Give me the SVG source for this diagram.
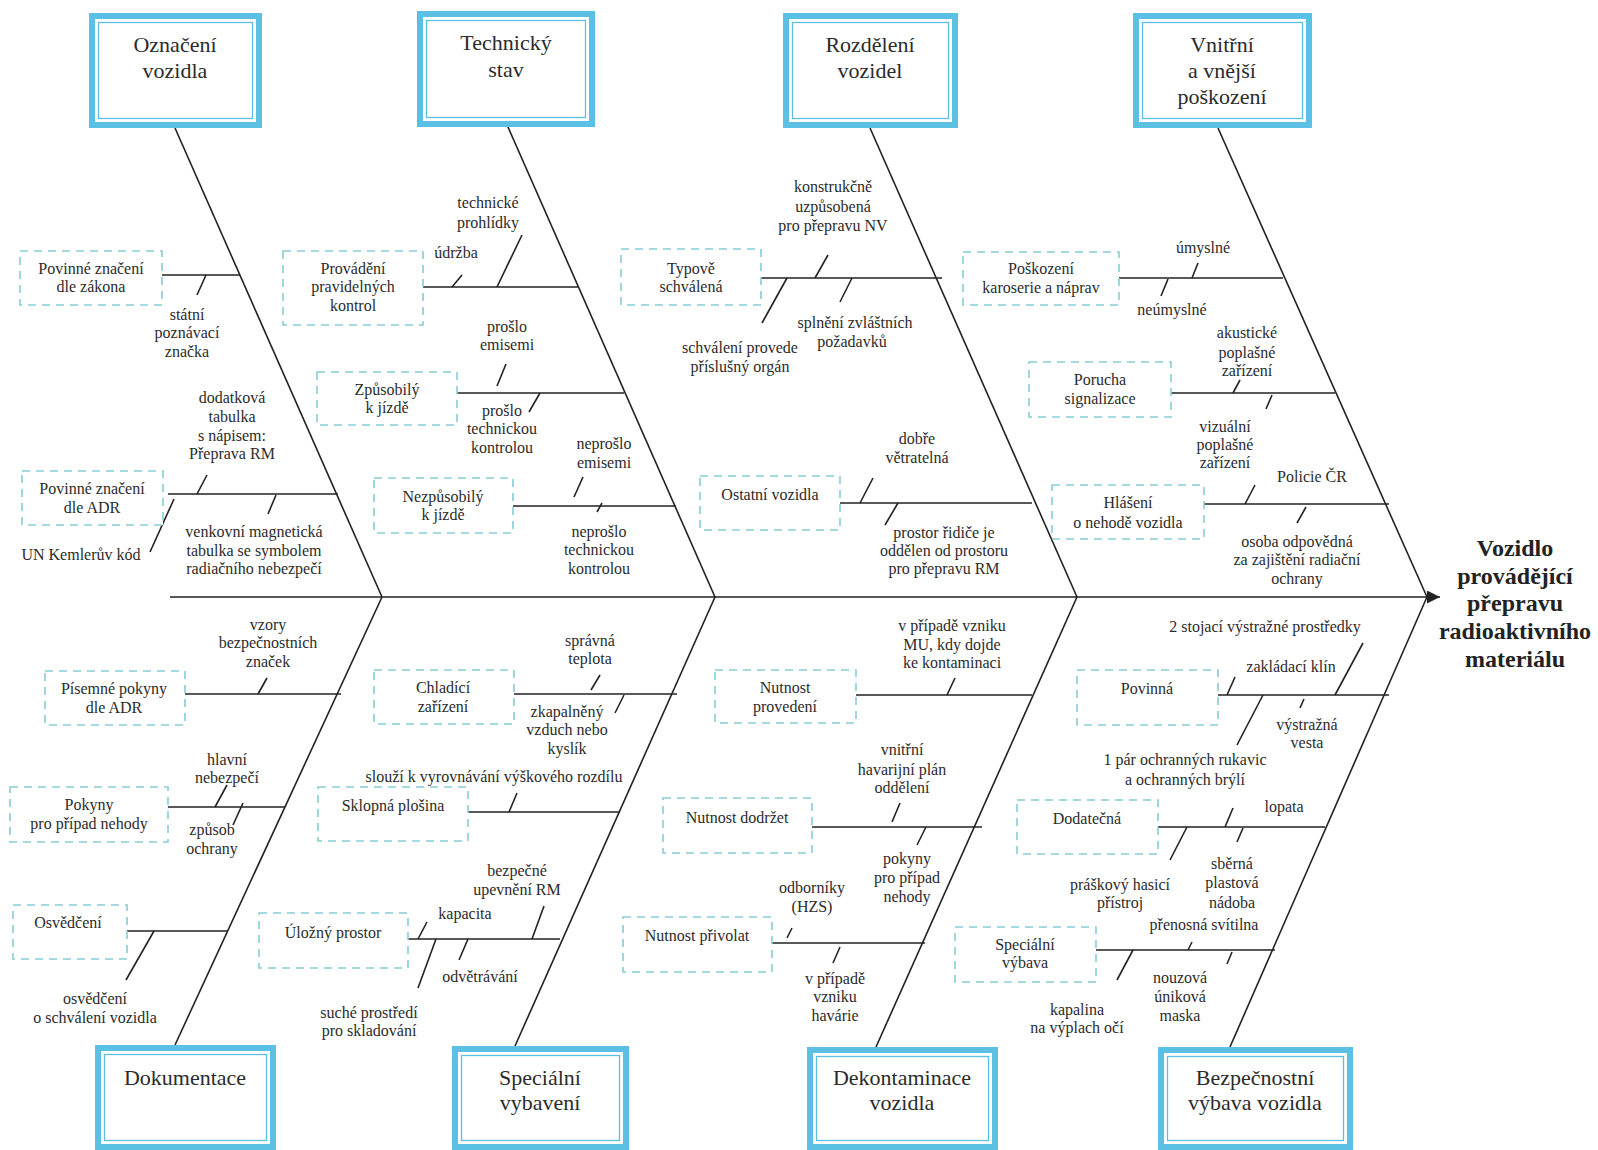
<svg xmlns="http://www.w3.org/2000/svg" width="1598" height="1150" viewBox="0 0 1598 1150">
<style>
.bo{fill:#fff;stroke:#5cbfe4;stroke-width:6}
.bi{fill:none;stroke:#5cbfe4;stroke-width:1.3}
.sb{fill:#fff;stroke:#86cdd6;stroke-width:1.6;stroke-dasharray:8 6}
.ln{stroke:#222;stroke-width:1.6;fill:none}
text{font-family:"Liberation Serif","DejaVu Serif",serif;fill:#2b2b2b;text-anchor:middle}
.t{font-size:16px}
.h{font-size:22px}
.ti{font-size:24px;font-weight:bold;fill:#222}
</style>
<defs>
<marker id="arr" markerUnits="userSpaceOnUse" markerWidth="14" markerHeight="14" refX="13" refY="6.5" orient="auto">
<path d="M0,0 L13,6.5 L0,13 z" fill="#222"/>
</marker>
</defs>
<rect width="1598" height="1150" fill="#fff"/>

<g id="connectors">
<line class="ln" x1="170" y1="597" x2="1440" y2="597" marker-end="url(#arr)"/>
<line class="ln" x1="175" y1="128" x2="382" y2="597"/>
<line class="ln" x1="382" y1="597" x2="175" y2="1045"/>
<line class="ln" x1="508" y1="127" x2="715" y2="597"/>
<line class="ln" x1="715" y1="597" x2="515" y2="1046"/>
<line class="ln" x1="870" y1="128" x2="1077" y2="597"/>
<line class="ln" x1="1077" y1="597" x2="876" y2="1047"/>
<line class="ln" x1="1218" y1="128" x2="1427" y2="597"/>
<line class="ln" x1="1427" y1="597" x2="1230" y2="1047"/>
<!-- branches -->
<line class="ln" x1="162" y1="275" x2="240" y2="275"/>
<line class="ln" x1="168" y1="494" x2="338" y2="494"/>
<line class="ln" x1="185" y1="694" x2="341" y2="694"/>
<line class="ln" x1="168" y1="807" x2="285" y2="807"/>
<line class="ln" x1="127" y1="931" x2="228" y2="931"/>
<line class="ln" x1="423" y1="287" x2="578" y2="287"/>
<line class="ln" x1="457" y1="393" x2="624" y2="393"/>
<line class="ln" x1="513" y1="506" x2="676" y2="506"/>
<line class="ln" x1="514" y1="694" x2="677" y2="694"/>
<line class="ln" x1="468" y1="812" x2="620" y2="812"/>
<line class="ln" x1="408" y1="939" x2="560" y2="939"/>
<line class="ln" x1="761" y1="278" x2="942" y2="278"/>
<line class="ln" x1="840" y1="503" x2="1032" y2="503"/>
<line class="ln" x1="856" y1="695" x2="1032" y2="695"/>
<line class="ln" x1="812" y1="827" x2="982" y2="827"/>
<line class="ln" x1="772" y1="943" x2="925" y2="943"/>
<line class="ln" x1="1119" y1="278" x2="1283" y2="278"/>
<line class="ln" x1="1171" y1="393" x2="1335" y2="393"/>
<line class="ln" x1="1204" y1="504" x2="1389" y2="504"/>
<line class="ln" x1="1218" y1="695" x2="1389" y2="695"/>
<line class="ln" x1="1158" y1="827" x2="1325" y2="827"/>
<line class="ln" x1="1096" y1="950" x2="1275" y2="950"/>
<!-- ticks -->
<line class="ln" x1="197" y1="295" x2="206" y2="275"/>
<line class="ln" x1="197" y1="494" x2="207" y2="475"/>
<line class="ln" x1="268" y1="514" x2="276" y2="495"/>
<line class="ln" x1="150" y1="552" x2="174" y2="499"/>
<line class="ln" x1="258" y1="694" x2="267" y2="678"/>
<line class="ln" x1="215" y1="807" x2="227" y2="785"/>
<line class="ln" x1="243" y1="803" x2="233" y2="825"/>
<line class="ln" x1="154" y1="931" x2="126" y2="980"/>
<line class="ln" x1="452" y1="287" x2="462" y2="275"/>
<line class="ln" x1="497" y1="287" x2="522" y2="235"/>
<line class="ln" x1="497" y1="386" x2="506" y2="364"/>
<line class="ln" x1="540" y1="393" x2="529" y2="412"/>
<line class="ln" x1="574" y1="497" x2="583" y2="477"/>
<line class="ln" x1="597" y1="512" x2="602" y2="503"/>
<line class="ln" x1="591" y1="690" x2="600" y2="675"/>
<line class="ln" x1="615" y1="713" x2="624" y2="695"/>
<line class="ln" x1="509" y1="812" x2="517" y2="793"/>
<line class="ln" x1="418" y1="939" x2="427" y2="922"/>
<line class="ln" x1="532" y1="939" x2="544" y2="906"/>
<line class="ln" x1="436" y1="939" x2="418" y2="988"/>
<line class="ln" x1="468" y1="939" x2="459" y2="960"/>
<line class="ln" x1="815" y1="278" x2="828" y2="255"/>
<line class="ln" x1="787" y1="278" x2="762" y2="323"/>
<line class="ln" x1="852" y1="278" x2="840" y2="302"/>
<line class="ln" x1="860" y1="503" x2="873" y2="478"/>
<line class="ln" x1="898" y1="503" x2="885" y2="525"/>
<line class="ln" x1="947" y1="695" x2="955" y2="678"/>
<line class="ln" x1="892" y1="822" x2="900" y2="803"/>
<line class="ln" x1="926" y1="827" x2="917" y2="845"/>
<line class="ln" x1="787" y1="938" x2="792" y2="928"/>
<line class="ln" x1="840" y1="947" x2="833" y2="963"/>
<line class="ln" x1="1192" y1="278" x2="1198" y2="263"/>
<line class="ln" x1="1168" y1="279" x2="1161" y2="296"/>
<line class="ln" x1="1233" y1="393" x2="1240" y2="380"/>
<line class="ln" x1="1272" y1="395" x2="1266" y2="409"/>
<line class="ln" x1="1245" y1="504" x2="1255" y2="485"/>
<line class="ln" x1="1306" y1="507" x2="1297" y2="523"/>
<line class="ln" x1="1335" y1="695" x2="1363" y2="643"/>
<line class="ln" x1="1227" y1="695" x2="1235" y2="677"/>
<line class="ln" x1="1300" y1="708" x2="1304" y2="699"/>
<line class="ln" x1="1263" y1="695" x2="1237" y2="745"/>
<line class="ln" x1="1225" y1="827" x2="1233" y2="808"/>
<line class="ln" x1="1243" y1="828" x2="1237" y2="842"/>
<line class="ln" x1="1187" y1="827" x2="1170" y2="860"/>
<line class="ln" x1="1188" y1="950" x2="1192" y2="942"/>
<line class="ln" x1="1232" y1="952" x2="1227" y2="964"/>
<line class="ln" x1="1133" y1="950" x2="1117" y2="980"/>
</g>

<!-- main category boxes -->
<g id="oznaceni"><rect class="bo" x="92" y="16" width="167" height="109"/><rect class="bi" x="98.5" y="22.5" width="154" height="96"/><text class="h" x="175" y="52">Označení</text><text class="h" x="175" y="78">vozidla</text></g>
<g id="technicky"><rect class="bo" x="420" y="14" width="172" height="110"/><rect class="bi" x="426.5" y="20.5" width="159" height="97"/><text class="h" x="506" y="50">Technický</text><text class="h" x="506" y="77">stav</text></g>
<g id="rozdeleni"><rect class="bo" x="786" y="16" width="169" height="109"/><rect class="bi" x="792.5" y="22.5" width="156" height="96"/><text class="h" x="870" y="52">Rozdělení</text><text class="h" x="870" y="78">vozidel</text></g>
<g id="vnitrni"><rect class="bo" x="1136" y="16" width="173" height="109"/><rect class="bi" x="1142.5" y="22.5" width="160" height="96"/><text class="h" x="1222" y="52">Vnitřní</text><text class="h" x="1222" y="78">a vnější</text><text class="h" x="1222" y="104">poškození</text></g>
<g id="dokumentace"><rect class="bo" x="98" y="1048" width="175" height="99"/><rect class="bi" x="104.5" y="1054.5" width="162" height="86"/><text class="h" x="185" y="1085">Dokumentace</text></g>
<g id="specialni"><rect class="bo" x="455" y="1049" width="171" height="98"/><rect class="bi" x="461.5" y="1055.5" width="158" height="85"/><text class="h" x="540" y="1085">Speciální</text><text class="h" x="540" y="1110">vybavení</text></g>
<g id="dekontaminace"><rect class="bo" x="810" y="1050" width="185" height="97"/><rect class="bi" x="816.5" y="1056.5" width="172" height="84"/><text class="h" x="902" y="1085">Dekontaminace</text><text class="h" x="902" y="1110">vozidla</text></g>
<g id="bezpecnostni"><rect class="bo" x="1161" y="1050" width="189" height="97"/><rect class="bi" x="1167.5" y="1056.5" width="176" height="84"/><text class="h" x="1255" y="1085">Bezpečnostní</text><text class="h" x="1255" y="1110">výbava vozidla</text></g>

<g id="effect"><text class="ti" x="1515" y="556">Vozidlo</text><text class="ti" x="1515" y="584">provádějící</text><text class="ti" x="1515" y="611">přepravu</text><text class="ti" x="1515" y="639">radioaktivního</text><text class="ti" x="1515" y="667">materiálu</text></g>

<!-- sub-cause boxes -->
<g id="s1"><rect class="sb" x="20" y="251" width="142" height="54"/><text class="t" x="91" y="274">Povinné značení</text><text class="t" x="91" y="292">dle zákona</text></g>
<g id="s2"><rect class="sb" x="22" y="471" width="141" height="54"/><text class="t" x="92" y="494">Povinné značení</text><text class="t" x="92" y="513">dle ADR</text></g>
<g id="s3"><rect class="sb" x="45" y="671" width="140" height="54"/><text class="t" x="114" y="694">Písemné pokyny</text><text class="t" x="114" y="713">dle ADR</text></g>
<g id="s4"><rect class="sb" x="10" y="787" width="158" height="55"/><text class="t" x="89" y="810">Pokyny</text><text class="t" x="89" y="829">pro případ nehody</text></g>
<g id="s5"><rect class="sb" x="13" y="905" width="114" height="54"/><text class="t" x="68" y="928">Osvědčení</text></g>
<g id="s6"><rect class="sb" x="283" y="251" width="140" height="74"/><text class="t" x="353" y="274">Provádění</text><text class="t" x="353" y="292">pravidelných</text><text class="t" x="353" y="311">kontrol</text></g>
<g id="s7"><rect class="sb" x="317" y="372" width="140" height="53"/><text class="t" x="387" y="395">Způsobilý</text><text class="t" x="387" y="413">k jízdě</text></g>
<g id="s8"><rect class="sb" x="374" y="478" width="139" height="55"/><text class="t" x="443" y="502">Nezpůsobilý</text><text class="t" x="443" y="520">k jízdě</text></g>
<g id="s9"><rect class="sb" x="374" y="670" width="140" height="54"/><text class="t" x="443" y="693">Chladící</text><text class="t" x="443" y="712">zařízení</text></g>
<g id="s10"><rect class="sb" x="318" y="787" width="150" height="54"/><text class="t" x="393" y="811">Sklopná plošina</text></g>
<g id="s11"><rect class="sb" x="259" y="913" width="149" height="55"/><text class="t" x="333" y="938">Úložný prostor</text></g>
<g id="s12"><rect class="sb" x="621" y="249" width="140" height="56"/><text class="t" x="691" y="274">Typově</text><text class="t" x="691" y="292">schválená</text></g>
<g id="s13"><rect class="sb" x="700" y="476" width="140" height="54"/><text class="t" x="770" y="500">Ostatní vozidla</text></g>
<g id="s14"><rect class="sb" x="715" y="670" width="141" height="53"/><text class="t" x="785" y="693">Nutnost</text><text class="t" x="785" y="712">provedení</text></g>
<g id="s15"><rect class="sb" x="663" y="798" width="149" height="55"/><text class="t" x="737" y="823">Nutnost dodržet</text></g>
<g id="s16"><rect class="sb" x="623" y="917" width="149" height="55"/><text class="t" x="697" y="941">Nutnost přivolat</text></g>
<g id="s17"><rect class="sb" x="963" y="252" width="156" height="53"/><text class="t" x="1041" y="274">Poškození</text><text class="t" x="1041" y="293">karoserie a náprav</text></g>
<g id="s18"><rect class="sb" x="1029" y="362" width="142" height="55"/><text class="t" x="1100" y="385">Porucha</text><text class="t" x="1100" y="404">signalizace</text></g>
<g id="s19"><rect class="sb" x="1052" y="485" width="152" height="54"/><text class="t" x="1128" y="508">Hlášení</text><text class="t" x="1128" y="528">o nehodě vozidla</text></g>
<g id="s20"><rect class="sb" x="1077" y="670" width="141" height="55"/><text class="t" x="1147" y="694">Povinná</text></g>
<g id="s21"><rect class="sb" x="1017" y="800" width="141" height="54"/><text class="t" x="1087" y="824">Dodatečná</text></g>
<g id="s22"><rect class="sb" x="955" y="927" width="141" height="55"/><text class="t" x="1025" y="950">Speciální</text><text class="t" x="1025" y="968">výbava</text></g>

<!-- branch labels -->
<g id="labels">
<text class="t" x="187" y="320">státní</text><text class="t" x="187" y="338">poznávací</text><text class="t" x="187" y="357">značka</text>
<text class="t" x="232" y="403">dodatková</text><text class="t" x="232" y="422">tabulka</text><text class="t" x="232" y="441">s nápisem:</text><text class="t" x="232" y="459">Přeprava RM</text>
<text class="t" x="254" y="537">venkovní magnetická</text><text class="t" x="254" y="556">tabulka se symbolem</text><text class="t" x="254" y="574">radiačního nebezpečí</text>
<text class="t" x="81" y="560">UN Kemlerův kód</text>
<text class="t" x="268" y="630">vzory</text><text class="t" x="268" y="648">bezpečnostních</text><text class="t" x="268" y="667">značek</text>
<text class="t" x="227" y="765">hlavní</text><text class="t" x="227" y="783">nebezpečí</text>
<text class="t" x="212" y="835">způsob</text><text class="t" x="212" y="854">ochrany</text>
<text class="t" x="95" y="1004">osvědčení</text><text class="t" x="95" y="1023">o schválení vozidla</text>
<text class="t" x="456" y="258">údržba</text>
<text class="t" x="488" y="208">technické</text><text class="t" x="488" y="228">prohlídky</text>
<text class="t" x="507" y="332">prošlo</text><text class="t" x="507" y="350">emisemi</text>
<text class="t" x="502" y="416">prošlo</text><text class="t" x="502" y="434">technickou</text><text class="t" x="502" y="453">kontrolou</text>
<text class="t" x="604" y="449">neprošlo</text><text class="t" x="604" y="468">emisemi</text>
<text class="t" x="599" y="537">neprošlo</text><text class="t" x="599" y="555">technickou</text><text class="t" x="599" y="574">kontrolou</text>
<text class="t" x="590" y="646">správná</text><text class="t" x="590" y="664">teplota</text>
<text class="t" x="567" y="717">zkapalněný</text><text class="t" x="567" y="735">vzduch nebo</text><text class="t" x="567" y="754">kyslík</text>
<text class="t" x="494" y="782">slouží k vyrovnávání výškového rozdílu</text>
<text class="t" x="465" y="919">kapacita</text>
<text class="t" x="517" y="876">bezpečné</text><text class="t" x="517" y="895">upevnění RM</text>
<text class="t" x="369" y="1018">suché prostředí</text><text class="t" x="369" y="1036">pro skladování</text>
<text class="t" x="480" y="982">odvětrávání</text>
<text class="t" x="833" y="192">konstrukčně</text><text class="t" x="833" y="212">uzpůsobená</text><text class="t" x="833" y="231">pro přepravu NV</text>
<text class="t" x="740" y="353">schválení provede</text><text class="t" x="740" y="372">příslušný orgán</text>
<text class="t" x="855" y="328">splnění zvláštních</text><text class="t" x="852" y="347">požadavků</text>
<text class="t" x="917" y="444">dobře</text><text class="t" x="917" y="463">větratelná</text>
<text class="t" x="944" y="538">prostor řidiče je</text><text class="t" x="944" y="556">oddělen od prostoru</text><text class="t" x="944" y="574">pro přepravu RM</text>
<text class="t" x="952" y="631">v případě vzniku</text><text class="t" x="952" y="650">MU, kdy dojde</text><text class="t" x="952" y="668">ke kontaminaci</text>
<text class="t" x="902" y="755">vnitřní</text><text class="t" x="902" y="775">havarijní plán</text><text class="t" x="902" y="793">oddělení</text>
<text class="t" x="907" y="864">pokyny</text><text class="t" x="907" y="883">pro případ</text><text class="t" x="907" y="902">nehody</text>
<text class="t" x="812" y="893">odborníky</text><text class="t" x="812" y="912">(HZS)</text>
<text class="t" x="835" y="984">v případě</text><text class="t" x="835" y="1002">vzniku</text><text class="t" x="835" y="1021">havárie</text>
<text class="t" x="1203" y="253">úmyslné</text>
<text class="t" x="1172" y="315">neúmyslné</text>
<text class="t" x="1247" y="338">akustické</text><text class="t" x="1247" y="358">poplašné</text><text class="t" x="1247" y="376">zařízení</text>
<text class="t" x="1225" y="432">vizuální</text><text class="t" x="1225" y="450">poplašné</text><text class="t" x="1225" y="468">zařízení</text>
<text class="t" x="1312" y="482">Policie ČR</text>
<text class="t" x="1297" y="547">osoba odpovědná</text><text class="t" x="1297" y="565">za zajištění radiační</text><text class="t" x="1297" y="584">ochrany</text>
<text class="t" x="1265" y="632">2 stojací výstražné prostředky</text>
<text class="t" x="1291" y="672">zakládací klín</text>
<text class="t" x="1307" y="730">výstražná</text><text class="t" x="1307" y="748">vesta</text>
<text class="t" x="1185" y="765">1 pár ochranných rukavic</text><text class="t" x="1185" y="785">a ochranných brýlí</text>
<text class="t" x="1284" y="812">lopata</text>
<text class="t" x="1232" y="869">sběrná</text><text class="t" x="1232" y="888">plastová</text><text class="t" x="1232" y="908">nádoba</text>
<text class="t" x="1120" y="890">práškový hasicí</text><text class="t" x="1120" y="908">přístroj</text>
<text class="t" x="1204" y="930">přenosná svítilna</text>
<text class="t" x="1180" y="983">nouzová</text><text class="t" x="1180" y="1002">úniková</text><text class="t" x="1180" y="1021">maska</text>
<text class="t" x="1077" y="1015">kapalina</text><text class="t" x="1077" y="1033">na výplach očí</text>
</g>
</svg>
